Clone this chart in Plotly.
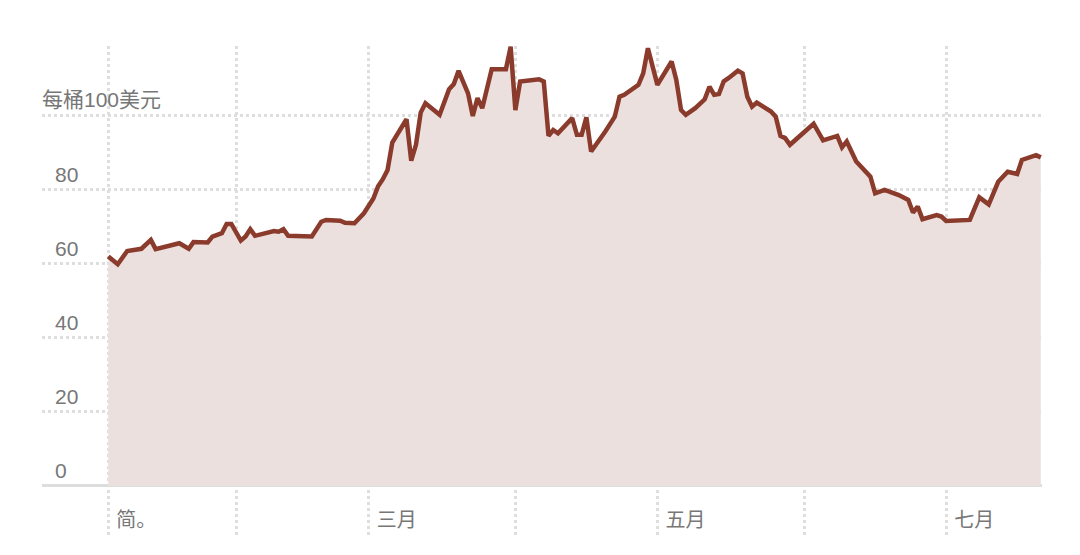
import plotly.graph_objects as go

# ---- data ----
dates = [
    "2022-01-05", "2022-01-07", "2022-01-09", "2022-01-12", "2022-01-14", "2022-01-15",
    "2022-01-20", "2022-01-22", "2022-01-23", "2022-01-26", "2022-01-27", "2022-01-29",
    "2022-01-30", "2022-01-31", "2022-02-02", "2022-02-03", "2022-02-04", "2022-02-05",
    "2022-02-09", "2022-02-10", "2022-02-11", "2022-02-12", "2022-02-17", "2022-02-18",
    "2022-02-19", "2022-02-20", "2022-02-23", "2022-02-24", "2022-02-26", "2022-02-28",
    "2022-03-02", "2022-03-03", "2022-03-04", "2022-03-05", "2022-03-06", "2022-03-09",
    "2022-03-10", "2022-03-11", "2022-03-12", "2022-03-13", "2022-03-16", "2022-03-18",
    "2022-03-19", "2022-03-20", "2022-03-22", "2022-03-23", "2022-03-24", "2022-03-25",
    "2022-03-26", "2022-03-27", "2022-03-30", "2022-03-31", "2022-04-01", "2022-04-02",
    "2022-04-06", "2022-04-07", "2022-04-08", "2022-04-09", "2022-04-10", "2022-04-13",
    "2022-04-14", "2022-04-15", "2022-04-16", "2022-04-17", "2022-04-20", "2022-04-22",
    "2022-04-23", "2022-04-24", "2022-04-27", "2022-04-28", "2022-04-29", "2022-05-01",
    "2022-05-04", "2022-05-05", "2022-05-06", "2022-05-07", "2022-05-09", "2022-05-11",
    "2022-05-12", "2022-05-13", "2022-05-14", "2022-05-15", "2022-05-16", "2022-05-18",
    "2022-05-19", "2022-05-20", "2022-05-21", "2022-05-22", "2022-05-25", "2022-05-26",
    "2022-05-27", "2022-05-28", "2022-05-29", "2022-06-01", "2022-06-03", "2022-06-05",
    "2022-06-08", "2022-06-09", "2022-06-10", "2022-06-12", "2022-06-15", "2022-06-16",
    "2022-06-18", "2022-06-21", "2022-06-23", "2022-06-24", "2022-06-25", "2022-06-26",
    "2022-06-29", "2022-06-30", "2022-07-01", "2022-07-06", "2022-07-07", "2022-07-08",
    "2022-07-10", "2022-07-12", "2022-07-14", "2022-07-16", "2022-07-17", "2022-07-20",
    "2022-07-21",
]
prices = [
    62.0, 59.9, 63.5, 64.1, 66.5, 64.0,
    65.6, 64.1, 65.9, 65.8, 67.4, 68.3,
    70.8, 70.8, 66.3, 67.4, 69.4, 67.6,
    68.9, 68.7, 69.4, 67.6, 67.4, 69.2,
    71.4, 71.9, 71.7, 71.1, 71.0, 73.7,
    77.7, 81.0, 82.9, 85.4, 92.8, 99.1,
    87.9, 92.2, 100.9, 103.4, 100.3, 107.2,
    108.6, 112.2, 106.1, 100.0, 104.8, 102.1,
    107.9, 112.6, 112.6, 118.7, 101.6, 109.3,
    109.9, 109.3, 94.6, 96.2, 95.3, 99.4,
    94.9, 94.9, 99.6, 90.4, 95.8, 99.8,
    105.2, 105.7, 108.4, 111.5, 118.3, 108.4,
    114.7, 109.7, 101.6, 100.3, 102.1, 104.5,
    107.9, 105.7, 105.9, 109.3, 110.2, 112.2,
    111.5, 105.2, 102.5, 103.6, 101.2, 99.8,
    94.6, 94.0, 92.2, 95.5, 97.9, 93.4,
    94.6, 91.5, 93.1, 87.7, 83.6, 79.1,
    80.0, 78.6, 77.3, 73.9, 75.5, 72.1,
    73.2, 72.8, 71.6, 71.9, 74.6, 78.0,
    76.1, 82.2, 84.9, 84.3, 88.1, 89.4,
    88.8,
]

x_tick_vals = ["2022-01-05", "2022-02-01", "2022-03-01", "2022-04-01",
               "2022-05-01", "2022-06-01", "2022-07-01"]
x_tick_text = ["简。", "", "三月", "", "五月", "", "七月"]

y_tick_vals = [0, 20, 40, 60, 80, 100]
y_tick_text = ["0", "20", "40", "60", "80", ""]
y_unit_label = "每桶100美元"

# ---- styling ----
LINE = "#8a3b2c"
FILL = "#ece0df"
GRID = "#dedede"
TEXT = "#777777"
FONT = "Liberation Sans, Noto Sans CJK SC, sans-serif"

fig = go.Figure()
fig.add_trace(go.Scatter(
    x=dates, y=prices, mode="lines",
    line=dict(color=LINE, width=4.5),
    fill="tozeroy", fillcolor=FILL,
    cliponaxis=False, hoverinfo="skip",
))

fig.add_annotation(
    x=0, xref="paper", y=100, yref="y",
    xanchor="left", yanchor="bottom", yshift=3, xshift=-2,
    text=y_unit_label, showarrow=False,
    font=dict(family=FONT, size=21, color=TEXT),
)

fig.update_layout(
    width=1064, height=539,
    margin=dict(l=34, r=30, t=38, b=10),
    paper_bgcolor="white", plot_bgcolor="white",
    showlegend=False,
    font=dict(family=FONT, size=20, color=TEXT),
    xaxis=dict(
        type="date",
        range=["2021-12-22", "2022-07-21 06:00"],
        tickmode="array", tickvals=x_tick_vals, ticktext=x_tick_text,
        showgrid=True, gridcolor=GRID, gridwidth=3, griddash="dot",
        ticklabelposition="inside right", ticklabelshift=8,
        ticks="", showline=False, zeroline=False,
        tickfont=dict(family=FONT, size=20, color=TEXT),
    ),
    yaxis=dict(
        range=[-13.8, 118.9],
        tickmode="array", tickvals=y_tick_vals, ticktext=y_tick_text,
        showgrid=True, gridcolor=GRID, gridwidth=3, griddash="dot",
        ticklabelposition="inside top", ticklabelstandoff=10, ticklabelshift=-1,
        zeroline=True, zerolinecolor="#dddddd", zerolinewidth=3,
        ticks="", showline=False,
        tickfont=dict(family=FONT, size=21, color=TEXT),
    ),
)

fig.write_html("out.html")
